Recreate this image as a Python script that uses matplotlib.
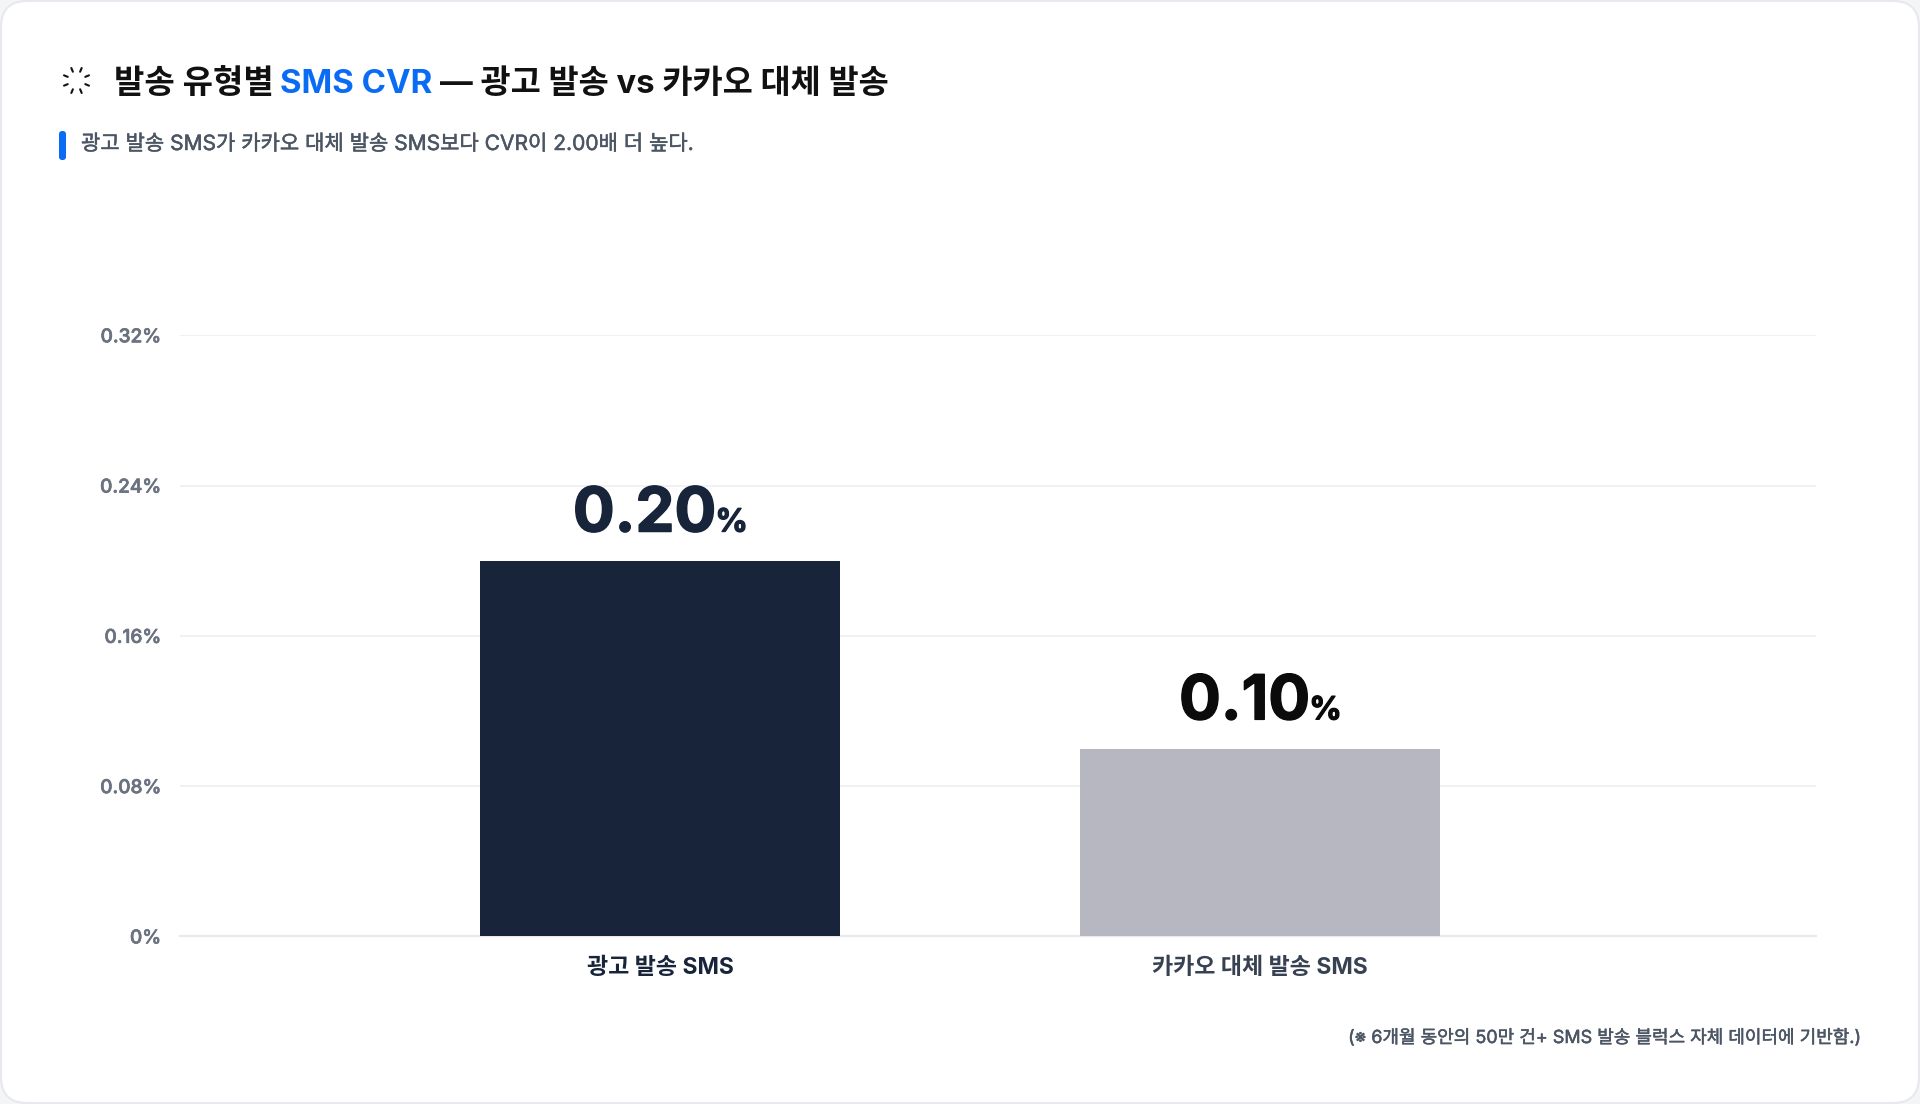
import numpy as np
import matplotlib
matplotlib.use('Agg')
import matplotlib.pyplot as plt
import matplotlib.patheffects as pe
from matplotlib.patches import FancyBboxPatch

# 데이터
categories = ['광고 발송 SMS', '카카오 대체 발송 SMS']
cvr_values = [0.20, 0.10]
value_labels = ['0.20', '0.10']
y_ticks = [0, 0.08, 0.16, 0.24, 0.32]
y_tick_labels = ['0%', '0.08%', '0.16%', '0.24%', '0.32%']

title_parts = ['발송 유형별', 'SMS CVR', '— 광고 발송 vs 카카오 대체 발송']
subtitle = '광고 발송 SMS가 카카오 대체 발송 SMS보다 CVR이 2.00배 더 높다.'
footnote = '(※ 6개월 동안의 50만 건+ SMS 발송 블럭스 자체 데이터에 기반함.)'

# 색상
bar_colors = ['#172439', '#b6b7c0']
value_colors = ['#172439', '#0b0b0b']
cat_colors = ['#172439', '#374151']
blue = '#0a6cf5'

FONTS = ['Inter', 'Noto Sans CJK KR', 'DejaVu Sans']
plt.rcParams['font.family'] = FONTS


def px(size):
    """픽셀 크기를 포인트로 변환 (dpi=100)"""
    return size * 0.72


def medium(color, width=0.35):
    """글꼴을 조금 더 굵게 보이게 하는 얇은 외곽선"""
    return [pe.withStroke(linewidth=width, foreground=color)]


fig = plt.figure(figsize=(19.2, 11.04), dpi=100, facecolor='#f4f5f7')

# 카드 배경과 장식은 픽셀 좌표계 축에 그린다
bg = fig.add_axes([0, 0, 1, 1], zorder=0)
bg.set_xlim(0, 1920)
bg.set_ylim(1104, 0)
bg.axis('off')

bg.add_patch(FancyBboxPatch((1, 1), 1918, 1102, boxstyle='round,pad=0,rounding_size=26',
                            fc='white', ec='#e7e9ee', lw=1.5))

# 아이콘
for a in np.radians(22.5 + 45 * np.arange(8)):
    bg.plot([76.5 + 9.5 * np.cos(a), 76.5 + 13.5 * np.cos(a)],
            [80.5 + 9.5 * np.sin(a), 80.5 + 13.5 * np.sin(a)],
            color='#111111', lw=1.5, solid_capstyle='round')

# 제목
bg.text(114, 93, title_parts[0], fontsize=px(33), fontweight='bold', color='#111111', va='baseline')
bg.text(280, 93, title_parts[1], fontsize=px(33), fontweight='bold', color=blue, va='baseline')
bg.text(440.5, 93, title_parts[2], fontsize=px(32.8), fontweight='bold', color='#111111', va='baseline')

# 부제목
bg.add_patch(FancyBboxPatch((59, 131), 7, 29, boxstyle='round,pad=0,rounding_size=3',
                            fc=blue, ec='none'))
bg.text(81, 150, subtitle, fontsize=px(21), color='#4b5563', va='baseline',
        path_effects=medium('#4b5563'))

# 각주
bg.text(1859, 1043, footnote, fontsize=px(18), color='#4b5563', ha='right', va='baseline',
        path_effects=medium('#4b5563'))

# 막대 차트
ax = fig.add_axes([180 / 1920, 1 - 936.4 / 1104, 1636 / 1920, 601.1 / 1104], zorder=1)
ax.patch.set_alpha(0)
x = np.arange(len(categories))
bars = ax.bar(x, cvr_values, width=0.6, color=bar_colors, zorder=3)
ax.set_xlim(-0.8005, 1.926)
ax.set_ylim(0, 0.32)

ax.set_yticks(y_ticks)
ax.set_yticklabels(y_tick_labels, fontsize=px(19), color='#6b7280', fontweight='medium')
for lab in ax.get_yticklabels():
    lab.set_path_effects(medium('#6b7280', 0.5))
ax.set_xticks(x)
ax.set_xticklabels(categories, fontsize=px(23), fontweight='bold')
for lab, c in zip(ax.get_xticklabels(), cat_colors):
    lab.set_color(c)
ax.tick_params(axis='y', length=0, pad=13.7)
ax.tick_params(axis='x', length=0, pad=14.5)
ax.grid(axis='y', color='#f0f1f3', lw=1.44, zorder=0)
ax.set_axisbelow(True)
for s in ax.spines.values():
    s.set_visible(False)
ax.axhline(0, color='#e9eaed', lw=1.6, zorder=1, clip_on=False)

# 값 라벨: 숫자와 % 를 묶어서 막대 중앙에 맞춘다
renderer = fig.canvas.get_renderer()
for bar, label, c in zip(bars, value_labels, value_colors):
    cx = bar.get_x() + bar.get_width() / 2
    top = bar.get_height()
    num = ax.annotate(label, (cx, top), xytext=(0, 21), textcoords='offset points',
                      ha='left', va='baseline', fontsize=px(62), fontweight='bold', color=c,
                      path_effects=medium(c, 1.0))
    pct = ax.annotate('%', (cx, top), xytext=(0, 21), textcoords='offset points',
                      ha='left', va='baseline', fontsize=px(32), fontweight='bold', color=c,
                      path_effects=medium(c, 0.9))
    w1 = num.get_window_extent(renderer).width
    w2 = pct.get_window_extent(renderer).width
    gap = -1
    start = -(w1 + gap + w2) / 2
    num.set_position((start * 0.72, 21))
    pct.set_position(((start + w1 + gap) * 0.72, 21))

fig.savefig('out.png', dpi=100, facecolor=fig.get_facecolor())
